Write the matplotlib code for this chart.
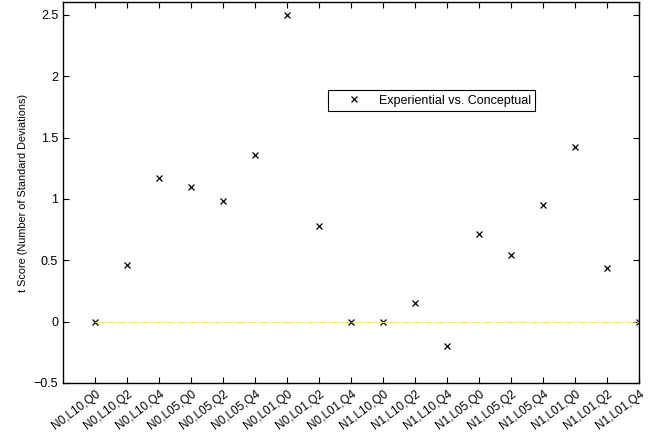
import matplotlib
matplotlib.use('Agg')
import matplotlib.pyplot as plt
from matplotlib.transforms import ScaledTranslation

plt.rcParams['font.family'] = ['Liberation Sans', 'DejaVu Sans']

labels = ['N0,L10,Q0', 'N0,L10,Q2', 'N0,L10,Q4', 'N0,L05,Q0', 'N0,L05,Q2', 'N0,L05,Q4',
          'N0,L01,Q0', 'N0,L01,Q2', 'N0,L01,Q4', 'N1,L10,Q0', 'N1,L10,Q2', 'N1,L10,Q4',
          'N1,L05,Q0', 'N1,L05,Q2', 'N1,L05,Q4', 'N1,L01,Q0', 'N1,L01,Q2', 'N1,L01,Q4']
t_scores = [0.0, 0.46, 1.17, 1.10, 0.98, 1.36,
            2.50, 0.78, 0.0, 0.0, 0.15, -0.20,
            0.71, 0.54, 0.95, 1.42, 0.44, 0.0]
positions = list(range(1, len(labels) + 1))

fig = plt.figure(figsize=(6.6, 4.36), dpi=100)
ax = fig.add_axes([0.0955, 0.1216, 0.8727, 0.8727])

ax.plot(positions, t_scores, 'x', color='black', markersize=4.5, markeredgewidth=0.9,
        label='Experiential vs. Conceptual')
ax.plot([positions[0], positions[-1]], [0, 0], linestyle='-.', color='#ffff00', linewidth=0.8)

ax.set_xlim(0, 18)
ax.set_ylim(-0.5, 2.6)
ax.set_yticks([-0.5, 0, 0.5, 1, 1.5, 2, 2.5])
ax.set_yticklabels(['\u22120.5', '0', '0.5', '1', '1.5', '2', '2.5'])
ax.set_xticks(positions)
ax.set_xticklabels(labels, rotation=37, ha='right', va='center', rotation_mode='anchor',
                   fontsize=8.5)
ax.tick_params(direction='in', top=True, right=True, length=4, width=0.8)
ax.tick_params(axis='y', labelsize=9)
ax.tick_params(axis='x', pad=0)
ax.set_ylabel('t Score (Number of Standard Deviations)', fontsize=7.8)

# shift the slanted labels a little down and right, like the original
shift = ScaledTranslation(0.04, -0.10, fig.dpi_scale_trans)
for lbl in ax.get_xticklabels():
    lbl.set_transform(lbl.get_transform() + shift)

for s in ax.spines.values():
    s.set_linewidth(1.0)

leg = ax.legend(loc='upper left', bbox_to_anchor=(0.46, 0.769), borderaxespad=0,
                fancybox=False, fontsize=9, handlelength=3.4, handletextpad=0.3,
                borderpad=0.35)
leg.get_frame().set_edgecolor('black')
leg.get_frame().set_linewidth(0.8)
leg.get_frame().set_alpha(1)

fig.savefig('out.png', dpi=100)
